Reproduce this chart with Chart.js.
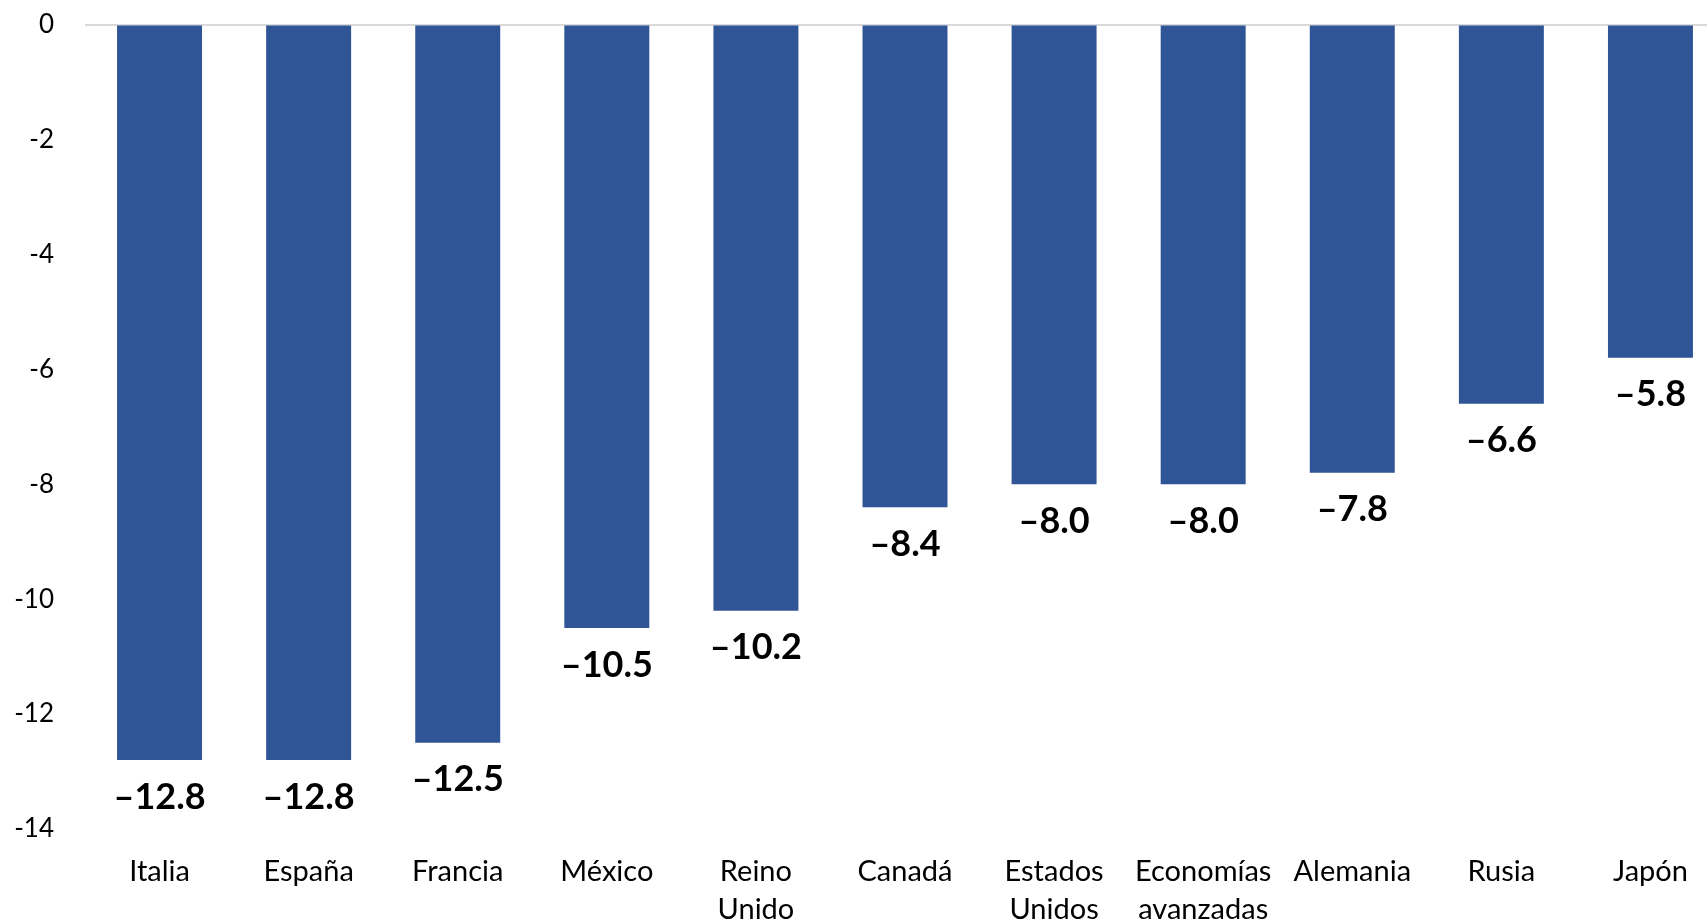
<!DOCTYPE html>
<html lang="es">
<head>
    <meta charset="UTF-8">
    <title>Crecimiento del PIB</title>
    <script src="https://cdn.jsdelivr.net/npm/chart.js"></script>
    <style>
        html, body { margin: 0; background: #fff; overflow: hidden; }
        /* canvas runs a bit past the top and right edges so the plot fills the page */
        #wrap { width: 1725px; height: 944px; margin-top: -22px; }
    </style>
</head>
<body>
    <div id="wrap"><canvas id="growthChart"></canvas></div>
    <script>
        const countries = ['Italia', 'España', 'Francia', 'México', ['Reino', 'Unido'], 'Canadá',
            ['Estados', 'Unidos'], ['Economías', 'avanzadas'], 'Alemania', 'Rusia', 'Japón'];
        const growth = [-12.8, -12.8, -12.5, -10.5, -10.2, -8.4, -8.0, -8.0, -7.8, -6.6, -5.8];
        const yTicks = [0, -2, -4, -6, -8, -10, -12, -14];

        const fontFamily = 'Lato, "DejaVu Sans", sans-serif';

        // value under each bar, with an en dash as the minus sign
        const valueLabels = {
            id: 'valueLabels',
            afterDatasetsDraw(chart) {
                const ctx = chart.ctx;
                const meta = chart.getDatasetMeta(0);
                ctx.save();
                ctx.font = 'bold 36px ' + fontFamily;
                ctx.fillStyle = '#000';
                ctx.textAlign = 'center';
                ctx.textBaseline = 'middle';
                meta.data.forEach((bar, i) => {
                    const v = growth[i];
                    const txt = (v < 0 ? '\u2013' : '') + Math.abs(v).toFixed(1);
                    ctx.fillText(txt, bar.x, bar.y + 37);
                });
                ctx.restore();
            }
        };

        const ctx = document.getElementById('growthChart').getContext('2d');
        new Chart(ctx, {
            type: 'bar',
            data: {
                labels: countries,
                datasets: [{
                    data: growth,
                    backgroundColor: '#2F5597',
                    borderWidth: 0,
                    categoryPercentage: 1,
                    barPercentage: 0.57
                }]
            },
            plugins: [valueLabels],
            options: {
                responsive: true,
                maintainAspectRatio: false,
                animation: false,
                layout: { padding: 0 },
                plugins: {
                    legend: { display: false },
                    tooltip: { enabled: false }
                },
                scales: {
                    x: {
                        afterFit(scale) { scale.height = 93; },
                        grid: { display: false, drawTicks: false },
                        border: { display: false },
                        ticks: {
                            color: '#000',
                            padding: 24,
                            maxRotation: 0,
                            autoSkip: false,
                            font: { family: fontFamily, size: 29, lineHeight: 1.3 }
                        }
                    },
                    y: {
                        min: -14,
                        max: 0,
                        afterFit(scale) { scale.width = 85; },
                        afterBuildTicks(scale) { scale.ticks = yTicks.map(v => ({ value: v })); },
                        grid: {
                            drawTicks: false,
                            lineWidth: 2,
                            color: c => (c.tick && c.tick.value === 0) ? '#d9d9d9' : 'rgba(0,0,0,0)'
                        },
                        border: { display: false },
                        ticks: {
                            color: '#000',
                            padding: 31,
                            font: { family: fontFamily, size: 26 }
                        }
                    }
                }
            }
        });
    </script>
</body>
</html>
